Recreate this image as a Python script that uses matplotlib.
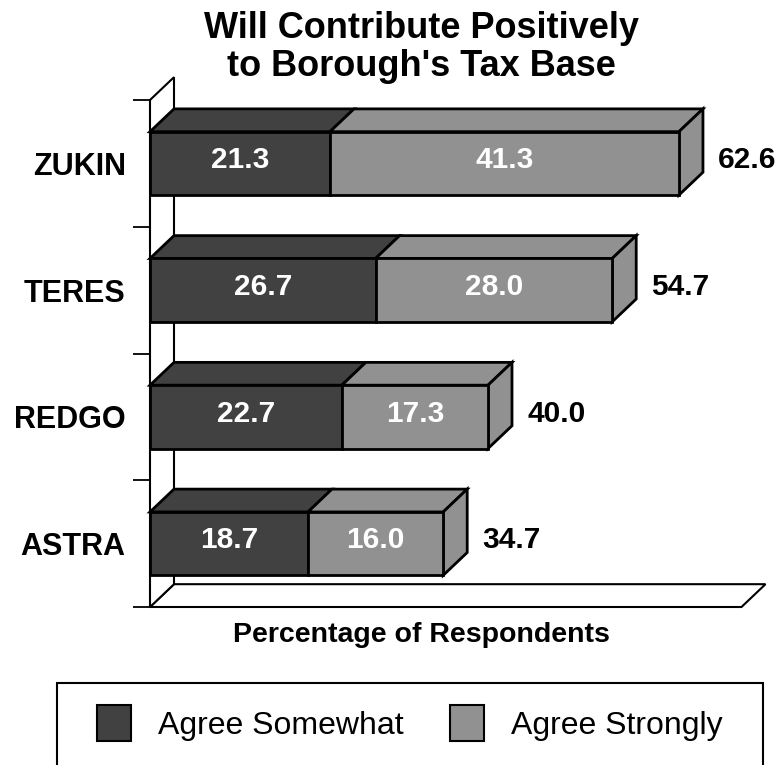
import numpy as np
import matplotlib
matplotlib.use("Agg")
import matplotlib.pyplot as plt
from matplotlib.patches import Polygon, Rectangle, Patch

# data, bottom to top
categories = ["ASTRA", "REDGO", "TERES", "ZUKIN"]
agreeSomewhat = [18.7, 22.7, 26.7, 21.3]
agreeStrongly = [16.0, 17.3, 28.0, 41.3]
totals = [34.7, 40.0, 54.7, 62.6]
seriesNames = ["Agree Somewhat", "Agree Strongly"]
titleLines = ["Will Contribute Positively", "to Borough's Tax Base"]
xLabel = "Percentage of Respondents"
xMax = 70


def main():
    plt.rcParams['font.family'] = ['Liberation Sans', 'DejaVu Sans']
    darkColor = '#414141'
    lightColor = '#919191'
    colors = [darkColor, lightColor]
    dx, dy = 2.84, 0.18   # 3d depth offset in data units
    barH = 0.5
    n = len(categories)

    fig = plt.figure(figsize=(7.8, 7.65), dpi=100)
    ax = fig.add_axes([150/780, 158/765, 591.5/780, 507/765])
    ax.set_xlim(0, xMax)
    ax.set_ylim(-0.5, n - 0.5)
    for sp in ax.spines.values():
        sp.set_visible(False)
    ax.set_xticks([])

    # floor and back wall
    floor = Polygon([(0, -0.5), (xMax, -0.5), (xMax + dx, -0.5 + dy), (dx, -0.5 + dy)],
                    closed=True, facecolor='white', edgecolor='black', lw=1.5,
                    clip_on=False, zorder=1)
    ax.add_patch(floor)
    wall = Polygon([(0, -0.5), (0, n - 0.5), (dx, n - 0.5 + dy), (dx, -0.5 + dy)],
                   closed=True, facecolor='white', edgecolor='black', lw=1.5,
                   clip_on=False, zorder=1)
    ax.add_patch(wall)

    # ticks between categories, labels at categories
    ax.set_yticks(np.arange(-0.5, n, 1.0))
    ax.set_yticklabels([])
    ax.set_yticks(np.arange(n), minor=True)
    ax.set_yticklabels(categories, minor=True)
    ax.tick_params(axis='y', which='major', length=12, width=1.3, direction='out')
    ax.tick_params(axis='y', which='minor', length=0, pad=17.5, labelsize=22)
    for lbl in ax.get_yticklabels(minor=True):
        lbl.set_fontweight('bold')

    # 3d stacked bars
    for i in range(n):
        vals = [agreeSomewhat[i], agreeStrongly[i]]
        left = 0
        yb = i - barH / 2
        yt = i + barH / 2
        for k, v in enumerate(vals):
            r = left + v
            ax.add_patch(Polygon([(left, yt), (r, yt), (r + dx, yt + dy), (left + dx, yt + dy)],
                                 closed=True, facecolor=colors[k], edgecolor='black',
                                 lw=2, joinstyle='miter', clip_on=False, zorder=3))
            ax.add_patch(Rectangle((left, yb), v, barH, facecolor=colors[k],
                                   edgecolor='black', lw=2, joinstyle='miter',
                                   clip_on=False, zorder=4))
            ax.annotate(f"{v:.1f}", xy=(left + v / 2, i), xytext=(0, -3.5),
                        textcoords='offset points', ha='center', va='baseline',
                        color='white', fontsize=21.5, fontweight='bold', zorder=5)
            left = r
        ax.add_patch(Polygon([(left, yb), (left, yt), (left + dx, yt + dy), (left + dx, yb + dy)],
                             closed=True, facecolor=colors[-1], edgecolor='black',
                             lw=2, joinstyle='miter', clip_on=False, zorder=3))
        ax.annotate(f"{totals[i]:.1f}", xy=(left + dx, i), xytext=(11, -3.5),
                    textcoords='offset points', ha='left', va='baseline',
                    color='black', fontsize=21.5, fontweight='bold')

    # titles
    fig.text(421/780, 1 - 38/765, titleLines[0], ha='center', va='baseline',
             fontsize=26, fontweight='bold')
    fig.text(421/780, 1 - 76/765, titleLines[1], ha='center', va='baseline',
             fontsize=26, fontweight='bold')
    fig.text(421/780, 1 - 642/765, xLabel, ha='center', va='baseline',
             fontsize=20.5, fontweight='bold')

    # legend box
    fig.patches.append(Rectangle((57/780, -0.02), (763 - 57)/780, (765 - 683)/765 + 0.02,
                                 transform=fig.transFigure, facecolor='none',
                                 edgecolor='black', lw=1.5))
    handles = [Patch(facecolor=colors[k], edgecolor='black', lw=1.5) for k in range(2)]
    fig.legend(handles, seriesNames, loc='center', bbox_to_anchor=(410/780, 1 - 723/765),
               ncol=2, frameon=False, fontsize=23, handlelength=1.06, handleheight=1.38,
               handletextpad=0.85, columnspacing=1.47, borderpad=0, borderaxespad=0)

    fig.savefig("out.png", dpi=100)


if __name__ == '__main__':
    main()
